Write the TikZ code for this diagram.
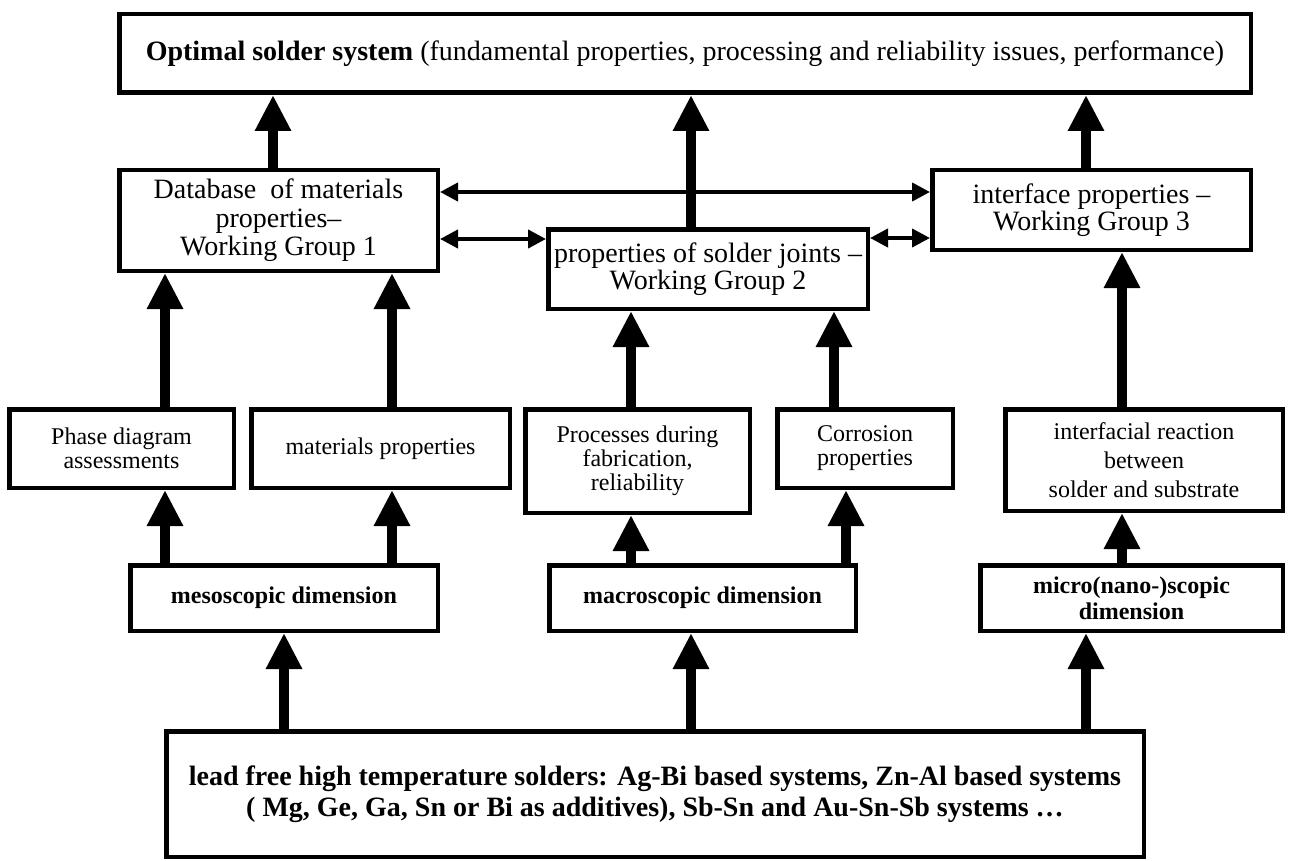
\documentclass[tikz,border=0pt]{standalone}
\usepackage{fontspec}
\setmainfont{Liberation Serif}
\usetikzlibrary{arrows.meta}
\begin{document}
\begin{tikzpicture}[x=1pt,y=-1pt,
  box/.style={draw, line width=4.5pt, rectangle, inner sep=0pt, align=center, fill=white},
  sz/.style 2 args={minimum width=#1pt-4.5pt, minimum height=#2pt-4.5pt},
  bigup/.style={line width=10pt, -{Triangle[width=34pt,length=36pt]}},
  dbl/.style={line width=4pt, {Triangle[width=18pt,length=18pt]}-{Triangle[width=18pt,length=18pt]}},
  bigtext/.style={font=\fontsize{28}{28.5}\selectfont},
  wgtext/.style={font=\fontsize{28}{26.5}\selectfont},
  smalltext/.style={font=\fontsize{24}{24}\selectfont},
  midtext/.style={font=\fontsize{24}{29}\selectfont},
  boldtext/.style={font=\fontsize{24}{26}\selectfont\bfseries},
  bottomtext/.style={font=\fontsize{28}{31}\selectfont\bfseries},
]
\useasboundingbox (0,0) rectangle (1290,861);
% boxes
\node[box, sz={1136}{83}, bigtext] (top) at (685,53.5)
  {\textbf{Optimal solder system} (fundamental properties, processing and reliability issues, performance)};
\node[box, sz={323}{105}, bigtext] (wg1) at (278.5,220.5)
  {Database\ \ of materials\\ properties--\\ Working Group 1};
\node[box, sz={324}{84}, wgtext] (wg2) at (708,269)
  {properties of solder joints --\\ Working Group 2};
\node[box, sz={323}{84}, wgtext] (wg3) at (1091.5,210)
  {interface properties --\\ Working Group 3};
\node[box, sz={229}{83}, smalltext] (phase) at (121.5,448.5)
  {Phase diagram\\ assessments};
\node[box, sz={263}{83}, smalltext] (matp) at (380.5,448.5)
  {materials properties};
\node[box, sz={229}{108}, smalltext] (proc) at (637.5,461)
  {Processes during\\ fabrication,\\ reliability};
\node[box, sz={180}{83}, smalltext] (corr) at (865,448.5)
  {Corrosion\\ properties};
\node[box, sz={282}{106}, midtext] (inter) at (1144,460)
  {interfacial reaction\\ between\\ solder and substrate};
\node[box, sz={312}{70}, boldtext] (meso) at (284,598)
  {mesoscopic dimension};
\node[box, sz={311}{70}, boldtext] (macro) at (702.5,598)
  {macroscopic dimension};
\node[box, sz={307}{70}, boldtext] (micro) at (1131.5,598)
  {micro(nano-)scopic\\ dimension};
\node[box, sz={982}{130}, bottomtext] (base) at (655,794)
  {lead free high temperature solders: Ag-Bi based systems, Zn-Al based systems\\
   ( Mg, Ge, Ga, Sn or Bi as additives), Sb-Sn and Au-Sn-Sb systems \dots};
% x positions of vertical arrows
\coordinate (a1) at (273,0);
\coordinate (a2) at (691,0);
\coordinate (a3) at (1086,0);
\coordinate (b1) at (165,0);
\coordinate (b2) at (392,0);
\coordinate (b3) at (631,0);
\coordinate (b4) at (834,0);
\coordinate (b5) at (1122,0);
\coordinate (c4) at (846,0);
\coordinate (d1) at (284,0);
% y positions of horizontal arrows
\coordinate (h1) at (0,192);
\coordinate (h2) at (0,239);
\coordinate (h3) at (0,238);
% vertical arrows
\draw[bigup] (wg1.north -| a1) -- (top.south -| a1);
\draw[bigup] (wg2.north -| a2) -- (top.south -| a2);
\draw[bigup] (wg3.north -| a3) -- (top.south -| a3);
\draw[bigup] (phase.north -| b1) -- (wg1.south -| b1);
\draw[bigup] (matp.north -| b2) -- (wg1.south -| b2);
\draw[bigup] (proc.north -| b3) -- (wg2.south -| b3);
\draw[bigup] (corr.north -| b4) -- (wg2.south -| b4);
\draw[bigup] (inter.north -| b5) -- (wg3.south -| b5);
\draw[bigup] (meso.north -| b1) -- (phase.south -| b1);
\draw[bigup] (meso.north -| b2) -- (matp.south -| b2);
\draw[bigup] (macro.north -| b3) -- (proc.south -| b3);
\draw[bigup] (macro.north -| c4) -- (corr.south -| c4);
\draw[bigup] (micro.north -| b5) -- (inter.south -| b5);
\draw[bigup] (base.north -| d1) -- (meso.south -| d1);
\draw[bigup] (base.north -| a2) -- (macro.south -| a2);
\draw[bigup] (base.north -| a3) -- (micro.south -| a3);
% horizontal double arrows
\draw[dbl] (wg1.east |- h1) -- (wg3.west |- h1);
\draw[dbl] (wg1.east |- h2) -- (wg2.west |- h2);
\draw[dbl] (wg2.east |- h3) -- (wg3.west |- h3);
\end{tikzpicture}
\end{document}
